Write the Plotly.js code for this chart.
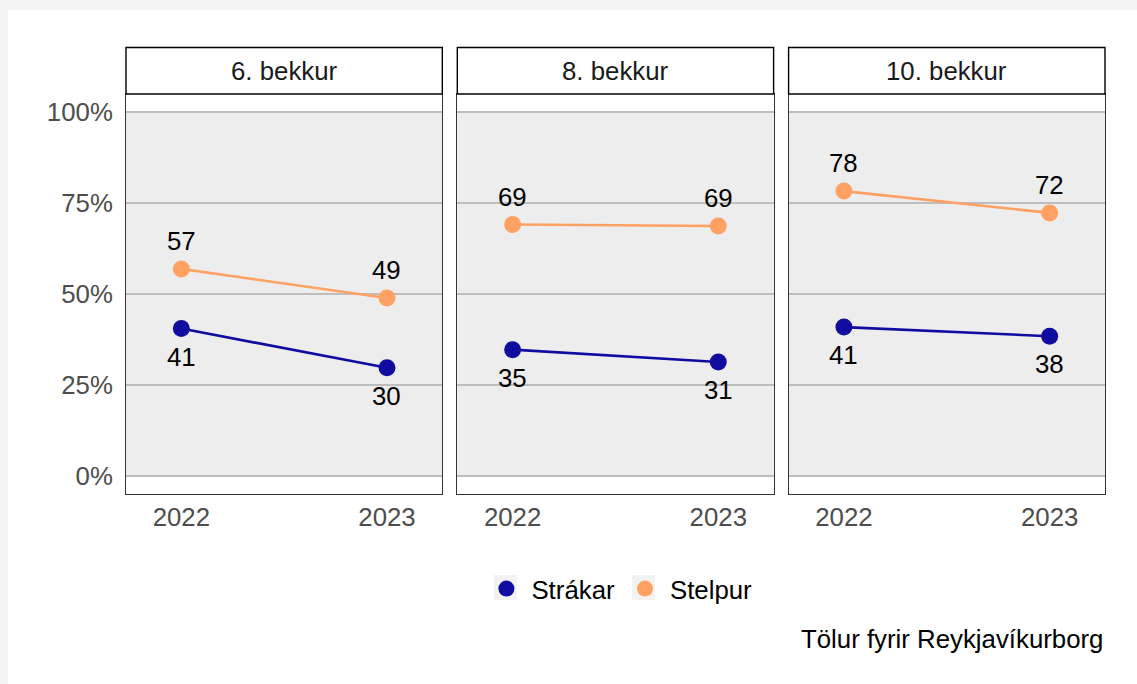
<!DOCTYPE html>
<html>
<head>
<meta charset="utf-8">
<script src="https://cdn.plot.ly/plotly-3.0.1.min.js"></script>
<style>
  html, body { margin: 0; padding: 0; background: #f4f4f4; }
  #chart { position: absolute; left: 8px; top: 10px; width: 1129px; height: 674px; }
</style>
</head>
<body>
<div id="chart"></div>
<script>
// ---- data ----
const panels = ["6. bekkur", "8. bekkur", "10. bekkur"];
const years = [2022, 2023];
const seriesNames = ["Strákar", "Stelpur"];
const strakar = [
  [40.5, 29.7],
  [34.7, 31.3],
  [40.9, 38.4]
];
const stelpur = [
  [56.9, 48.9],
  [69.1, 68.7],
  [78.3, 72.3]
];
const yTickVals = [0, 25, 50, 75, 100];
const yTickText = ["0%", "25%", "50%", "75%", "100%"];
const caption = "Tölur fyrir Reykjavíkurborg";

// ---- style ----
const FONT = '"Liberation Sans", Arial, Helvetica, sans-serif';
const FS = 25.8;
const colors = { "Strákar": "#100ca0", "Stelpur": "#ffa162" };
const domains = [[0, 0.3231], [0.3384, 0.6615], [0.6768, 1]];
const stripH = 0.1163;

const traces = [];
const annotations = [];
const shapes = [];
const layout = {
  width: 1129, height: 674,
  margin: { l: 118, r: 32, t: 84, b: 190, pad: 0 },
  paper_bgcolor: "#ffffff",
  plot_bgcolor: "#ffffff",
  font: { family: FONT, size: FS, color: "#000" },
  showlegend: true,
  legend: {
    orientation: "h", x: 0.504, xanchor: "center", y: -0.237, yanchor: "middle",
    font: { family: FONT, size: FS, color: "#000" }, itemwidth: 40,
    bgcolor: "rgba(0,0,0,0)", traceorder: "normal", itemclick: false
  },
  hovermode: false
};

// legend key backgrounds
[[0.3759, 0.3994], [0.5169, 0.5403]].forEach(b => {
  shapes.push({ type: "rect", xref: "paper", yref: "paper", x0: b[0], x1: b[1], y0: -0.265, y1: -0.2025,
    fillcolor: "#f2f2f2", line: { width: 0 }, layer: "above" });
});

panels.forEach((p, i) => {
  const ax = i === 0 ? "" : String(i + 1);
  const xa = "x" + ax, ya = "y" + ax;
  layout["xaxis" + ax] = {
    domain: domains[i], anchor: ya, range: [2021.731, 2023.269],
    tickvals: years, ticktext: years.map(String),
    showgrid: false, zeroline: false, ticks: "", ticklabelstandoff: 0,
    tickfont: { family: FONT, size: FS, color: "#4d4d4d" },
    showline: true, mirror: true, linecolor: "#333", linewidth: 1, fixedrange: true
  };
  layout["yaxis" + ax] = {
    domain: [0, 1], anchor: xa, range: [-5, 105],
    tickvals: yTickVals, ticktext: yTickText, showticklabels: i === 0,
    showgrid: true, gridcolor: "#bdbdbd", gridwidth: 1.8, zeroline: false,
    ticks: "", ticklabelstandoff: 7,
    tickfont: { family: FONT, size: FS, color: "#4d4d4d" },
    showline: true, mirror: true, linecolor: "#333", linewidth: 1, fixedrange: true
  };
  // grey band from 0 to 100
  shapes.push({ type: "rect", xref: xa + " domain", yref: ya, x0: 0, x1: 1, y0: 0, y1: 100,
    fillcolor: "#ededed", line: { width: 0 }, layer: "below" });
  // strip
  shapes.push({ type: "rect", xref: xa + " domain", yref: "paper", x0: 0, x1: 1, y0: 1, y1: 1 + stripH,
    fillcolor: "#ffffff", line: { color: "#000", width: 1.4 } });
  annotations.push({ xref: xa + " domain", yref: "paper", x: 0.5, y: 1 + stripH / 2,
    text: p, showarrow: false, xanchor: "center", yanchor: "middle",
    font: { family: FONT, size: FS, color: "#1a1a1a" } });

  const data = { "Strákar": strakar[i], "Stelpur": stelpur[i] };
  seriesNames.forEach(name => {
    traces.push({ type: "scatter", mode: "lines", x: years, y: data[name], xaxis: xa, yaxis: ya,
      line: { color: colors[name], width: 2.6 }, showlegend: false, hoverinfo: "skip" });
  });
  seriesNames.forEach(name => {
    traces.push({ type: "scatter", mode: "markers", x: years, y: data[name], xaxis: xa, yaxis: ya,
      name: name, legendgroup: name, showlegend: i === 0,
      marker: { color: colors[name], size: 17 }, hoverinfo: "skip" });
    data[name].forEach((v, k) => {
      annotations.push({ xref: xa, yref: ya, x: years[k], y: v, text: String(Math.round(v)),
        showarrow: false, xanchor: "center", yanchor: "middle",
        yshift: name === "Stelpur" ? 28 : -28,
        font: { family: FONT, size: FS, color: "#000" } });
    });
  });
});

annotations.push({ xref: "paper", yref: "paper", x: 1, y: -0.3625, text: caption,
  showarrow: false, xanchor: "right", yanchor: "middle",
  font: { family: FONT, size: FS, color: "#000" } });

layout.shapes = shapes;
layout.annotations = annotations;

Plotly.newPlot("chart", traces, layout, { displayModeBar: false, staticPlot: true });
</script>
</body>
</html>
